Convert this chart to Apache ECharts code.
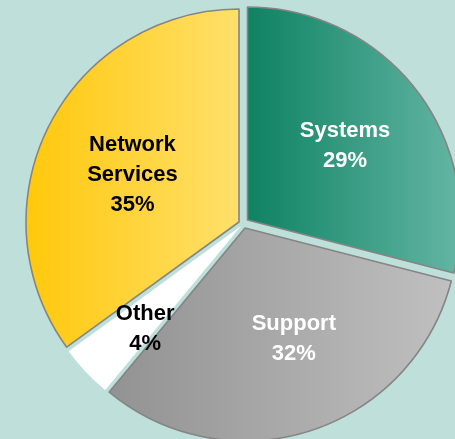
<!DOCTYPE html>
<html>
<head>
<meta charset="utf-8">
<script src="https://cdn.jsdelivr.net/npm/echarts@6/dist/echarts.min.js"></script>
<style>
html,body{margin:0;padding:0;background:#BFE0DA;}
#chart{width:455px;height:439px;}
</style>
</head>
<body>
<div id="chart"></div>
<script>
// Data
var categories = ['Systems', 'Support', 'Other', 'Network Services'];
var values = [29, 32, 4, 35];

// Styles (per slice)
var sliceCenters = [[247.5, 220], [245, 228], [241, 226], [239, 222]];
var labelShift = [[11, -7], [15, 7], [-16, 28], [-9, 3]];
var labelColors = ['#ffffff', '#ffffff', '#000000', '#000000'];
var fills = [
  ['#0E8262', '#64B6A4'],
  ['#929292', '#C0C0C0'],
  ['#ffffff', '#ffffff'],
  ['#FFC80A', '#FFE06C']
];
var borderWidths = [1.6, 1.6, 0, 1.6];

var chart = echarts.init(document.getElementById('chart'), null, {renderer: 'canvas'});

var series = categories.map(function (cat, k) {
  return {
    type: 'pie',
    center: sliceCenters[k],
    radius: 213,
    startAngle: 90,
    clockwise: true,
    silent: true,
    animation: false,
    avoidLabelOverlap: false,
    labelLine: {show: false},
    emphasis: {disabled: true},
    labelLayout: {dx: labelShift[k][0], dy: labelShift[k][1]},
    data: categories.map(function (c, i) {
      var visible = i === k;
      return {
        name: c,
        value: values[i],
        itemStyle: visible ? {
          color: new echarts.graphic.LinearGradient(0, 0, 1, 0, [
            {offset: 0, color: fills[i][0]},
            {offset: 1, color: fills[i][1]}
          ]),
          borderColor: '#858585',
          borderWidth: borderWidths[i]
        } : {color: 'rgba(0,0,0,0)', borderWidth: 0},
        label: visible ? {
          show: true,
          position: 'inside',
          color: labelColors[i],
          fontFamily: 'Liberation Sans, Arial, sans-serif',
          fontWeight: 'bold',
          fontSize: 22,
          lineHeight: 30,
          formatter: function (p) {
            return p.name.replace(' ', '\n') + '\n' + p.value + '%';
          }
        } : {show: false}
      };
    })
  };
});

chart.setOption({
  backgroundColor: '#BFE0DA',
  animation: false,
  series: series
});
</script>
</body>
</html>
